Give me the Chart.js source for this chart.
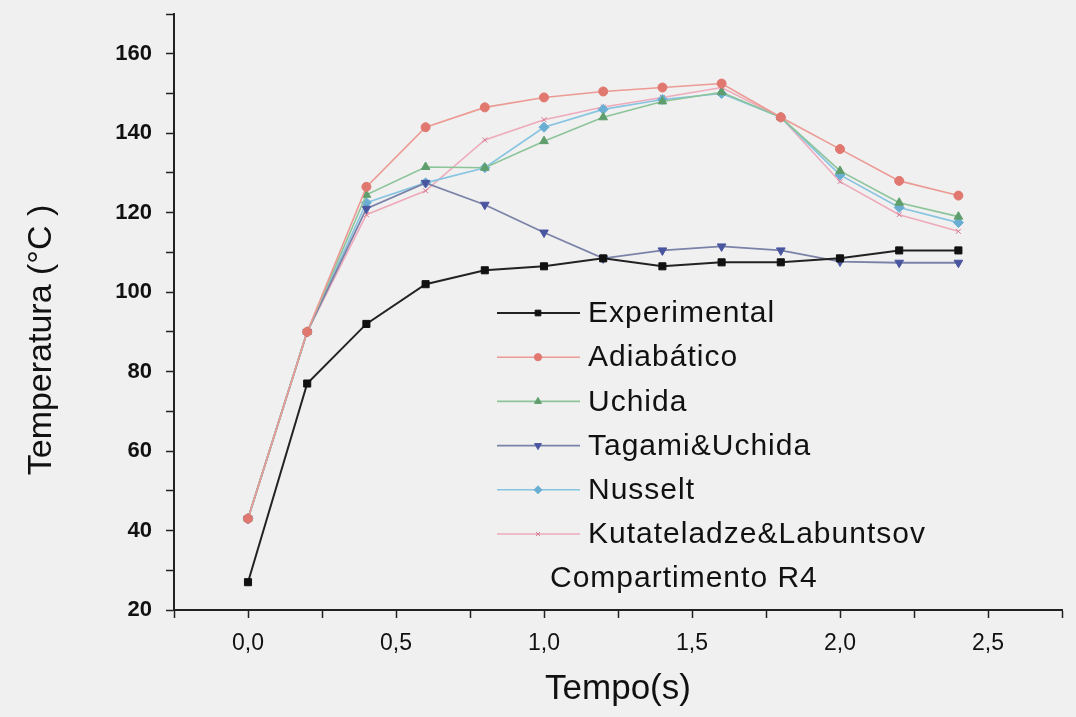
<!DOCTYPE html>
<html>
<head>
<meta charset="utf-8">
<script src="https://cdn.jsdelivr.net/npm/chart.js@4/dist/chart.umd.min.js"></script>
<style>
  html, body { margin: 0; padding: 0; background: #f0f0f0; }
  canvas { display: block; }
</style>
</head>
<body>
<canvas id="myChart" width="1076" height="717"></canvas>
<script>
var tempo = [0.0, 0.2, 0.4, 0.6, 0.8, 1.0, 1.2, 1.4, 1.6, 1.8, 2.0, 2.2, 2.4];

var experimental = [27, 77, 92, 102, 105.5, 106.5, 108.5, 106.5, 107.5, 107.5, 108.5, 110.5, 110.5];
var adiabatico   = [43, 90, 126.5, 141.5, 146.5, 149, 150.5, 151.5, 152.5, 144, 136, 128, 124.3];
var uchida       = [43, 90, 124.5, 131.5, 131.3, 138, 144, 148, 150.3, 144, 130.5, 122.5, 119];
var tagami       = [43, 90, 121, 127.5, 122, 115, 108.5, 110.5, 111.5, 110.5, 107.7, 107.4, 107.4];
var nusselt      = [43, 90, 122.5, 127.5, 131.3, 141.5, 146, 148.5, 150, 144, 129.5, 121.3, 117.5];
var kutateladze  = [43, 90, 119.5, 125.5, 138.3, 143.4, 146.6, 149, 151.5, 144, 127.8, 119.5, 115.3];

var labels = ['Experimental', 'Adiabático', 'Uchida', 'Tagami&Uchida', 'Nusselt', 'Kutateladze&Labuntsov'];
var series = [experimental, adiabatico, uchida, tagami, nusselt, kutateladze];
var lineColors  = ['#222222', '#ec9a94', '#8cc49a', '#7b82a8', '#86c4e0', '#eeaabb'];
var pointColors = ['#111111', '#e07870', '#5f9e6c', '#4a55a0', '#6aaed4', '#d07890'];
var pointStyles = ['rect', 'circle', 'triangle', 'triangle', 'rectRot', 'crossRot'];
var pointRots   = [0, 0, 0, 180, 0, 0];
var pointSizes  = [5, 4.5, 5, 5, 5, 3.5];
var lineWidths  = [2, 1.6, 1.6, 1.8, 1.6, 1.6];

var ySteps = [20, 40, 60, 80, 100, 120, 140, 160];
var yTitle = 'Temperatura (°C )';
var boxTitle = 'Compartimento R4';

var datasets = series.map(function(vals, i) {
  return {
    label: labels[i],
    data: tempo.map(function(t, j) { return { x: t, y: vals[j] }; }),
    borderColor: lineColors[i],
    backgroundColor: pointColors[i],
    pointBackgroundColor: pointColors[i],
    pointBorderColor: pointColors[i],
    pointStyle: pointStyles[i],
    rotation: pointRots[i],
    pointRadius: pointSizes[i],
    borderWidth: lineWidths[i],
    pointBorderWidth: 1,
    tension: 0
  };
});

// legend inside the plot + y title, placed like the original
var innerLegend = {
  id: 'innerLegend',
  afterDraw: function(chart) {
    var ctx = chart.ctx;
    var x0 = 497, x1 = 580, xm = 538, tx = 588;
    var y = 313, dy = 44.2;
    ctx.save();
    ctx.font = '30px "Liberation Sans", Arial, sans-serif';
    ctx.letterSpacing = '1px';
    ctx.textBaseline = 'middle';
    chart.data.datasets.forEach(function(ds, i) {
      var yy = y + i * dy;
      ctx.strokeStyle = ds.borderColor;
      ctx.lineWidth = ds.borderWidth;
      ctx.beginPath();
      ctx.moveTo(x0, yy);
      ctx.lineTo(x1, yy);
      ctx.stroke();
      ctx.fillStyle = ds.pointBackgroundColor;
      ctx.strokeStyle = ds.pointBorderColor;
      ctx.lineWidth = 1;
      Chart.helpers.drawPoint(ctx, { pointStyle: ds.pointStyle, rotation: ds.rotation, radius: ds.pointRadius * 0.8, borderWidth: 1 }, xm, yy);
      ctx.fillStyle = '#111';
      ctx.fillText(ds.label, tx, yy + 1);
    });
    ctx.fillText(boxTitle, 550, y + 6 * dy + 1);

    ctx.letterSpacing = '0px';
    ctx.font = '34px "Liberation Sans", Arial, sans-serif';
    ctx.translate(42, 340);
    ctx.rotate(-Math.PI / 2);
    ctx.textAlign = 'center';
    ctx.fillText(yTitle, 0, 0);
    ctx.restore();
  }
};

var ctx = document.getElementById('myChart').getContext('2d');
var myChart = new Chart(ctx, {
  type: 'line',
  data: { datasets: datasets },
  options: {
    responsive: false,
    animation: false,
    layout: { padding: { top: 14, right: 14, left: 0, bottom: 0 } },
    plugins: {
      legend: { display: false },
      tooltip: { enabled: false }
    },
    scales: {
      x: {
        type: 'linear',
        min: -0.25,
        max: 2.75,
        afterFit: function(scale) {
          scale.height = 107;
          scale.paddingLeft = 0;
          scale.paddingRight = 0;
        },
        border: { display: true, color: '#222', width: 2 },
        grid: { drawOnChartArea: false, drawTicks: true, tickLength: 8, tickColor: '#222', tickWidth: 1.5 },
        ticks: {
          stepSize: 0.25,
          padding: 12,
          color: '#111',
          font: { family: '"Liberation Sans", Arial, sans-serif', size: 23 },
          maxRotation: 0,
          autoSkip: false,
          callback: function(v) {
            var h = v * 2;
            if (v < 0 || Math.abs(h - Math.round(h)) > 1e-6) return '';
            return v.toFixed(1).replace('.', ',');
          }
        },
        title: {
          display: true,
          text: 'Tempo(s)',
          color: '#111',
          font: { family: '"Liberation Sans", Arial, sans-serif', size: 35 },
          padding: { top: 7, bottom: 7 }
        }
      },
      y: {
        min: 20,
        max: 170,
        afterFit: function(scale) {
          scale.width = 174;
          scale.paddingTop = 0;
          scale.paddingBottom = 0;
        },
        border: { display: true, color: '#222', width: 2 },
        grid: { drawOnChartArea: false, drawTicks: true, tickLength: 8, tickColor: '#222', tickWidth: 1.5 },
        ticks: {
          stepSize: 10,
          padding: 14,
          color: '#111',
          font: { family: '"Liberation Sans", Arial, sans-serif', size: 22, weight: 'bold' },
          autoSkip: false,
          callback: function(v) { return ySteps.indexOf(v) >= 0 ? String(v) : ''; }
        }
      }
    }
  },
  plugins: [innerLegend]
});
</script>
</body>
</html>
